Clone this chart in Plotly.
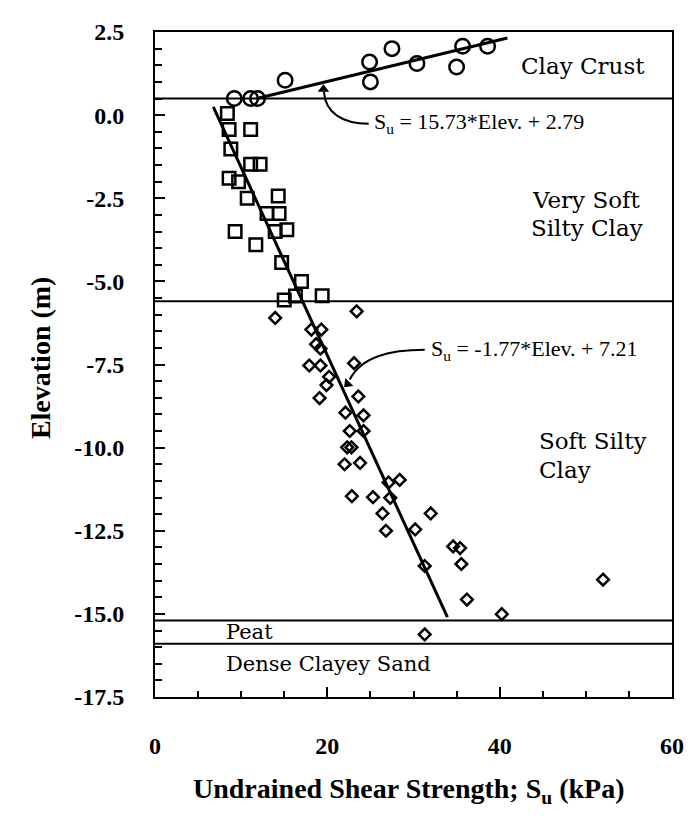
import numpy as np
import plotly.graph_objects as go

# ---------------- data ----------------
crust_su = [9.2, 11.1, 11.9, 15.1, 24.9, 25.0, 27.5, 30.4, 35.0, 35.7, 38.6]
crust_elev = [0.5, 0.5, 0.5, 1.05, 1.6, 1.0, 2.0, 1.55, 1.45, 2.07, 2.07]

vsoft_su = [8.4, 8.6, 11.1, 8.8, 11.1, 12.2, 8.6, 9.7, 10.7, 14.3, 13.0, 14.4,
            9.3, 13.95, 15.3, 11.7, 14.7, 17.0, 15.0, 16.3, 19.4]
vsoft_elev = [0.05, -0.43, -0.43, -1.02, -1.48, -1.48, -1.9, -2.0, -2.5, -2.43,
              -2.96, -2.96, -3.5, -3.5, -3.45, -3.9, -4.43, -5.0, -5.56, -5.44, -5.43]

soft_su = [13.95, 23.4, 18.15, 19.3, 18.7, 19.2, 17.9, 19.2, 23.1, 20.2, 19.9,
           19.1, 23.6, 22.1, 24.2, 22.6, 24.2, 22.3, 22.8, 22.0, 23.8, 27.1, 28.4,
           22.85, 25.3, 27.3, 26.4, 32.0, 26.8, 30.2, 31.3, 34.6, 35.4, 35.55,
           52.0, 36.2, 40.25, 31.3]
soft_elev = [-6.1, -5.9, -6.45, -6.45, -6.89, -7.02, -7.53, -7.53, -7.46, -7.87,
             -8.12, -8.51, -8.46, -8.95, -9.03, -9.5, -9.5, -9.99, -9.99, -10.5,
             -10.46, -11.05, -10.97, -11.46, -11.49, -11.51, -11.98, -11.98, -12.5,
             -12.46, -13.56, -12.97, -13.02, -13.5, -13.97, -14.57, -15.01, -15.62]

# fitted lines
crust_fit_elev = [0.5, 2.32]
crust_fit_su = [11.8, 40.9]
clay_slope, clay_icpt = -1.77, 7.21
clay_fit_elev = np.array([0.25, -15.1])
clay_fit_su = clay_slope * clay_fit_elev + clay_icpt

# layer boundaries (elevation, m)
boundaries = [0.5, -5.6, -15.2, -15.9]

y_ticks = [2.5, 0.0, -2.5, -5.0, -7.5, -10.0, -12.5, -15.0, -17.5]
y_tick_labels = ["2.5", "0.0", "-2.5", "-5.0", "-7.5", "-10.0", "-12.5", "-15.0", "-17.5"]
x_ticks = [0, 20, 40, 60]
x_tick_labels = ["0", "20", "40", "60"]

# ---------------- figure ----------------
fig = go.Figure()

fig.add_trace(go.Scatter(x=crust_fit_su, y=crust_fit_elev, mode="lines",
                         line=dict(color="black", width=3), showlegend=False))
fig.add_trace(go.Scatter(x=clay_fit_su, y=clay_fit_elev, mode="lines",
                         line=dict(color="black", width=3), showlegend=False))

fig.add_trace(go.Scatter(x=crust_su, y=crust_elev, mode="markers",
                         marker=dict(symbol="circle-open", size=14.5, color="black",
                                     line=dict(width=2.5, color="black")),
                         showlegend=False))
fig.add_trace(go.Scatter(x=vsoft_su, y=vsoft_elev, mode="markers",
                         marker=dict(symbol="square-open", size=12.5, color="black",
                                     line=dict(width=2.5, color="black")),
                         showlegend=False))
fig.add_trace(go.Scatter(x=soft_su, y=soft_elev, mode="markers",
                         marker=dict(symbol="diamond-open", size=9, color="black",
                                     line=dict(width=2.5, color="black")),
                         showlegend=False))

for b in boundaries:
    fig.add_shape(type="line", xref="paper", yref="y", x0=0, x1=1, y0=b, y1=b,
                  line=dict(color="black", width=2))

# curved arrows (data coordinates)
fig.add_shape(type="path", xref="x", yref="y",
              path="M 24.8,-0.26 C 21.7,-0.26 19.8,0.07 19.6,0.7",
              line=dict(color="black", width=2))
fig.add_shape(type="path", xref="x", yref="y",
              path="M 31.3,-7.06 C 27.3,-7.06 24.0,-7.25 22.6,-7.95",
              line=dict(color="black", width=2))
# arrowheads
fig.add_trace(go.Scatter(x=[19.55, 22.35], y=[0.78, -8.08], mode="markers",
                         marker=dict(symbol="triangle-up", size=10, color="black",
                                     angle=[0, 225]),
                         showlegend=False, hoverinfo="skip"))

serif = "Liberation Serif"
label_font = dict(family="DejaVu Serif", size=23, color="black")
eq_font = dict(family=serif, size=22, color="black")

fig.add_annotation(x=25.2, y=-0.25, xref="x", yref="y", xanchor="left", yanchor="middle",
                   text="S<sub>u</sub> = 15.73*Elev. + 2.79", showarrow=False, font=eq_font)
fig.add_annotation(x=31.8, y=-7.07, xref="x", yref="y", xanchor="left", yanchor="middle",
                   text="S<sub>u</sub> = -1.77*Elev. + 7.21", showarrow=False, font=eq_font)

fig.add_annotation(x=49.7, y=1.47, xref="x", yref="y", text="Clay Crust",
                   showarrow=False, font=label_font)
fig.add_annotation(x=50.1, y=-2.55, xref="x", yref="y", text="Very Soft",
                   showarrow=False, font=label_font)
fig.add_annotation(x=50.1, y=-3.4, xref="x", yref="y", text="Silty Clay",
                   showarrow=False, font=label_font)
fig.add_annotation(x=44.3, y=-9.8, xref="x", yref="y", xanchor="left", text="Soft Silty",
                   showarrow=False, font=label_font)
fig.add_annotation(x=44.3, y=-10.68, xref="x", yref="y", xanchor="left", text="Clay",
                   showarrow=False, font=label_font)
fig.add_annotation(x=8.0, y=-15.55, xref="x", yref="y", xanchor="left", text="Peat",
                   showarrow=False, font=dict(family="DejaVu Serif", size=21, color="black"))
fig.add_annotation(x=8.0, y=-16.5, xref="x", yref="y", xanchor="left", text="Dense Clayey Sand",
                   showarrow=False, font=dict(family="DejaVu Serif", size=21, color="black"))

# axis titles
fig.add_annotation(x=0.49, y=-0.14, xref="paper", yref="paper", yanchor="middle",
                   text="<b>Undrained Shear Strength; S<sub>u</sub> (kPa)</b>",
                   showarrow=False, font=dict(family=serif, size=28, color="black"))
fig.add_annotation(x=-0.22, y=0.51, xref="paper", yref="paper", textangle=-90,
                   xanchor="center", yanchor="middle",
                   text="<b>Elevation (m)</b>", showarrow=False,
                   font=dict(family=serif, size=28, color="black"))

tick_font = dict(family=serif, size=24, color="black", weight="bold")

fig.update_xaxes(range=[0, 60], tickvals=x_ticks, ticktext=x_tick_labels,
                 ticks="inside", ticklen=10, tickwidth=2, tickcolor="black",
                 minor=dict(tickvals=[5, 10, 15, 25, 30, 35, 45, 50, 55],
                            ticks="inside", ticklen=6, tickwidth=1.5, tickcolor="black"),
                 showline=True, linewidth=2, linecolor="black", mirror=True,
                 showgrid=False, zeroline=False, tickfont=tick_font,
                 ticklabelstandoff=26)
fig.update_yaxes(range=[-17.5, 2.5], tickvals=y_ticks, ticktext=y_tick_labels,
                 ticks="inside", ticklen=10, tickwidth=2, tickcolor="black",
                 minor=dict(dtick=0.5, tick0=2.5, ticks="inside", ticklen=7,
                            tickwidth=1.5, tickcolor="black"),
                 showline=True, linewidth=2, linecolor="black", mirror=True,
                 showgrid=False, zeroline=False, tickfont=tick_font,
                 ticklabelstandoff=24)

# browser body has an 8px margin: size the figure to fill the rest of the window
fig.update_layout(width=687, height=808, plot_bgcolor="white", paper_bgcolor="white",
                  margin=dict(l=147, r=17, t=11, b=119), showlegend=False)

fig.write_html("out.html")
